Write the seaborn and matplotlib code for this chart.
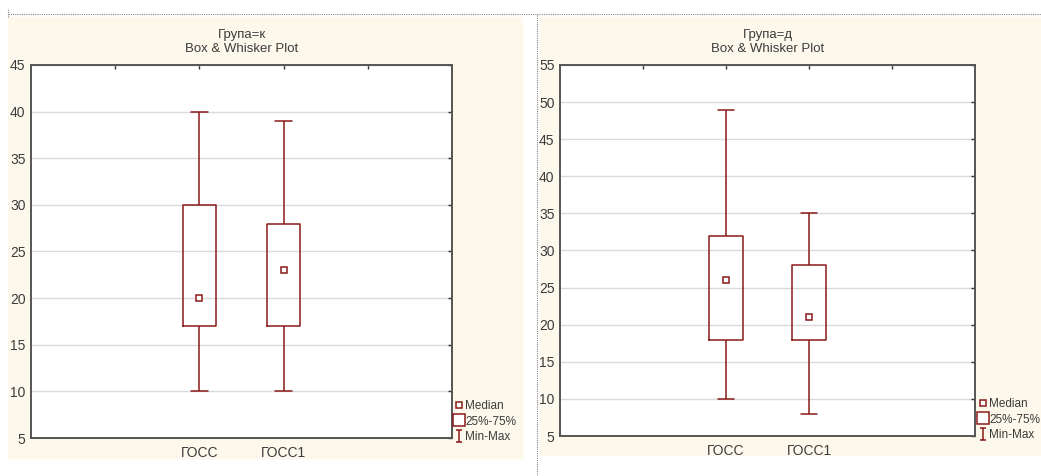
import pandas as pd
import matplotlib.pyplot as plt
import seaborn as sns
from matplotlib.lines import Line2D
from matplotlib.patches import Rectangle
from matplotlib.path import Path

# Valores (min, Q1, mediana, Q3, max)
groups = ["ГОСС", "ГОСС1"]

k_min = [10, 10]
k_q1 = [17, 17]
k_med = [20, 23]
k_q3 = [30, 28]
k_max = [40, 39]

d_min = [10, 8]
d_q1 = [18, 18]
d_med = [26, 21]
d_q3 = [32, 28]
d_max = [49, 35]

panel_titles = ["Група=к\nBox & Whisker Plot", "Група=д\nBox & Whisker Plot"]
legend_labels = ["Median", "25%-75%", "Min-Max"]


def long_frame(mins, q1s, meds, q3s, maxs):
    rows = []
    for g, a, b, c, d, e in zip(groups, mins, q1s, meds, q3s, maxs):
        for v in (a, b, c, d, e):
            rows.append({"var": g, "value": v})
    return pd.DataFrame(rows)


df_k = long_frame(k_min, k_q1, k_med, k_q3, k_max)
df_d = long_frame(d_min, d_q1, d_med, d_q3, d_max)

sns.set_style("white")
plt.rcParams["font.family"] = ["Liberation Sans Narrow", "Liberation Sans", "DejaVu Sans"]

BOX = "#8b1a1a"
TXT = "#3c3c3c"
CREAM = "#fdf8ec"
W, H = 1041, 476

fig = plt.figure(figsize=(W / 100, H / 100), dpi=100)
fig.patch.set_facecolor("white")

# fondos crema de cada panel
fig.add_artist(Rectangle((8 / W, 1 - 458 / H), (522 - 8) / W, (458 - 17) / H,
                         transform=fig.transFigure, color=CREAM, zorder=-10))
fig.add_artist(Rectangle((540 / W, 1 - 455 / H), (W - 540) / W, (455 - 17) / H,
                         transform=fig.transFigure, color=CREAM, zorder=-10))
# líneas punteadas de separación
fig.add_artist(Line2D([8 / W, 1], [1 - 14 / H, 1 - 14 / H], transform=fig.transFigure,
                      color="#888888", lw=0.8, ls=(0, (1, 1))))
fig.add_artist(Line2D([537 / W, 537 / W], [0, 1 - 14 / H], transform=fig.transFigure,
                      color="#888888", lw=0.8, ls=(0, (1, 1))))
fig.add_artist(Line2D([8 / W, 8 / W], [1 - 17 / H, 1 - 9 / H], transform=fig.transFigure,
                      color="#888888", lw=0.8, ls=(0, (1, 1))))

# marcador en forma de I para Min-Max
ibeam = Path([(-0.5, 1), (0.5, 1), (0, 1), (0, -1), (-0.5, -1), (0.5, -1)],
             [Path.MOVETO, Path.LINETO, Path.MOVETO, Path.LINETO, Path.MOVETO, Path.LINETO])

panels = [
    (df_k, (31, 65, 452, 438), (5, 45), panel_titles[0], (455, 400)),
    (df_d, (560, 65, 975, 436), (5, 55), panel_titles[1], (979, 398)),
]

for df, (x0, y0, x1, y1), ylim, title, leg_pos in panels:
    ax = fig.add_axes([x0 / W, 1 - y1 / H, (x1 - x0) / W, (y1 - y0) / H])
    ax.set_facecolor("white")

    sns.boxplot(data=df, x="var", y="value", whis=(0, 100), width=0.4,
                fill=False, color=BOX, linewidth=1.1,
                medianprops={"linewidth": 0}, ax=ax)
    sns.pointplot(data=df, x="var", y="value", estimator="median", errorbar=None,
                  linestyle="none", marker="s", markersize=4, markeredgewidth=1.1,
                  color=BOX, ax=ax)
    ax.lines[-1].set_markerfacecolor("white")
    ax.lines[-1].set_zorder(5)

    ax.set_xlim(-2, 3)
    ax.set_xticks([-1, 0, 1, 2])
    ax.set_xticklabels([""] + groups + [""])
    ax.set_ylim(*ylim)
    ax.set_yticks(range(ylim[0], ylim[1] + 1, 5))
    ax.yaxis.grid(True, color="#dadada", lw=1)
    ax.set_axisbelow(True)
    ax.set_xlabel("")
    ax.set_ylabel("")

    ax.tick_params(axis="both", direction="in", length=3, width=1, color="#333333",
                   labelcolor=TXT, labelsize=10, top=True, right=True)
    ax.tick_params(axis="x", pad=6)
    ax.tick_params(axis="y", pad=4)
    for s in ax.spines.values():
        s.set_color("#555555")
        s.set_linewidth(1.4)
    ax.set_title(title, fontsize=9.5, color=TXT, pad=9, linespacing=1.3)

    handles = [
        Line2D([], [], ls="none", marker="s", markersize=4, mfc="white", mec=BOX, mew=1.1),
        Line2D([], [], ls="none", marker="s", markersize=9, mfc="white", mec=BOX, mew=1.1),
        Line2D([], [], ls="none", marker=ibeam, markersize=9, mfc="none", mec=BOX, mew=1.1),
    ]
    leg = ax.legend(handles, legend_labels, loc="upper left", frameon=False,
                    bbox_to_anchor=(leg_pos[0] / W, 1 - leg_pos[1] / H),
                    bbox_transform=fig.transFigure, handlelength=0.6,
                    handletextpad=0.25, labelspacing=0.3, borderpad=0,
                    borderaxespad=0, fontsize=8.5)
    for t in leg.get_texts():
        t.set_color(TXT)

plt.savefig("out.png", dpi=100)
